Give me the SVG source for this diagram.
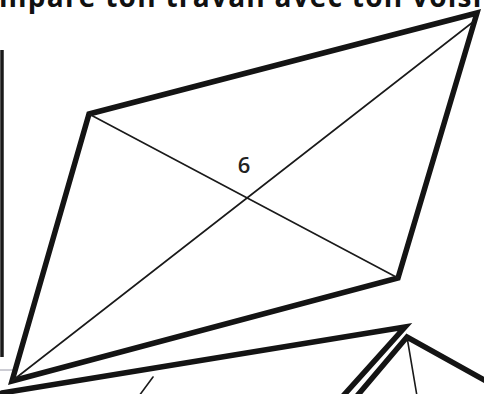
<svg xmlns="http://www.w3.org/2000/svg" width="484" height="394" viewBox="0 0 484 394">
<style>
.thick{fill:none;stroke:#141414;stroke-width:5.5;stroke-linejoin:miter;stroke-linecap:round}
.thin{fill:none;stroke:#1a1a1a;stroke-width:1.6;stroke-linecap:round}
.head{font-family:"Open Sans","Liberation Sans",sans-serif;font-weight:bold;fill:#111}
.lbl{font-family:"Open Sans","Liberation Sans",sans-serif;font-weight:600;fill:#222}
</style>
<rect width="484" height="394" fill="#fff"/>
<text class="head" x="-1" y="7" font-size="28" textLength="502" lengthAdjust="spacing">mpare ton travail avec ton voisin</text>
<line x1="2" y1="50" x2="2" y2="357" stroke="#1a1a1a" stroke-width="3.5"/>
<line x1="0" y1="370" x2="13" y2="370" stroke="#9a9aa8" stroke-width="1"/>
<g id="quad">
<polygon class="thick" points="89,114 477,13 398,278 12,381"/>
<line class="thin" x1="89" y1="114" x2="398" y2="278"/>
<line class="thin" x1="12" y1="381" x2="473" y2="22"/>
<text class="lbl" x="244" y="173" font-size="22" text-anchor="middle">6</text>
</g>
<g id="lower">
<polyline class="thick" points="2,393 405,327 343,396"/>
<polyline class="thick" points="357,396 407,337 486,381"/>
<line class="thin" x1="407" y1="337" x2="417" y2="396"/>
<line class="thin" x1="153" y1="377" x2="139" y2="396"/>
</g>
</svg>
